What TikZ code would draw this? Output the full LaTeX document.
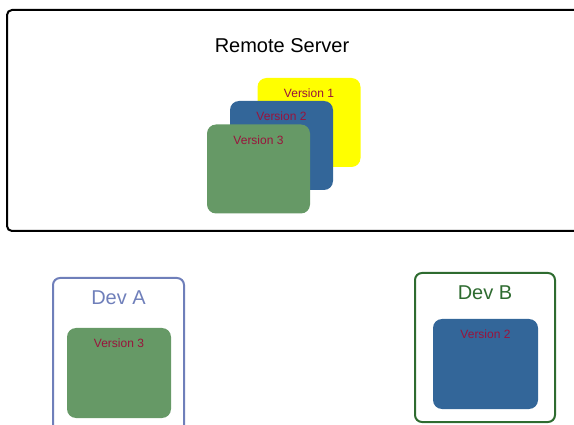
\documentclass[tikz,border=0pt]{standalone}
\usepackage{fontspec}
\setmainfont{Liberation Sans}

\tikzstyle{server-box}=[draw=black, line width=2pt, rounded corners=5pt, inner sep=0pt]
\tikzstyle{dev-box}=[line width=2pt, rounded corners=7pt, inner sep=0pt, minimum width=131pt]
\tikzstyle{version-box}=[rounded corners=9pt, inner sep=0pt, minimum width=103pt, minimum height=89pt]
\tikzstyle{version-label}=[anchor=north, yshift=-7.5pt, font=\fontsize{12}{14}\selectfont, text=versiontext]
\tikzstyle{dev-label}=[anchor=north, yshift=-10.5pt, font=\fontsize{20}{23}\selectfont]
\definecolor{version1}{HTML}{FFFF00}
\definecolor{version2}{HTML}{336699}
\definecolor{version3}{HTML}{669966}
\definecolor{versiontext}{HTML}{99143C}
\definecolor{devA}{HTML}{6F7FBA}
\definecolor{devB}{HTML}{2E6B30}

\begin{document}
\begin{tikzpicture}[x=1pt, y=-1pt]
      \useasboundingbox (0, 0) rectangle (574, 425);
      \clip (0, 0) rectangle (574, 425);
      % remote side
      \node (server) at (298.5, 120.5)
            [server-box, minimum width=583pt, minimum height=221pt] {};
      \node (server-title) at (282, 45.5)
            [font=\fontsize{20}{23}\selectfont] {Remote Server};
      \node (remote1) at (309, 122.5)
            [version-box, fill={version1}, label={[version-label]north:Version 1}] {};
      \node (remote2) at (281.5, 145.5)
            [version-box, fill={version2}, label={[version-label]north:Version 2}] {};
      \node (remote3) at (258.5, 169)
            [version-box, fill={version3}, label={[version-label]north:Version 3}] {};
      % developers
      \node (devA) at (118.5, 355)
            [dev-box, draw={devA}, minimum height=154pt,
             label={[dev-label, text={devA}]north:Dev A}] {};
      \node (localA) at (119, 373)
            [version-box, fill={version3}, minimum width=104pt, minimum height=90pt,
             label={[version-label]north:Version 3}] {};
      \node (devB) at (485, 347.5)
            [dev-box, draw={devB}, minimum width=140pt, minimum height=149pt,
             label={[dev-label, text={devB}]north:Dev B}] {};
      \node (localB) at (485.5, 364)
            [version-box, fill={version2}, minimum width=105pt, minimum height=90pt,
             label={[version-label]north:Version 2}] {};
    \end{tikzpicture}
\end{document}
